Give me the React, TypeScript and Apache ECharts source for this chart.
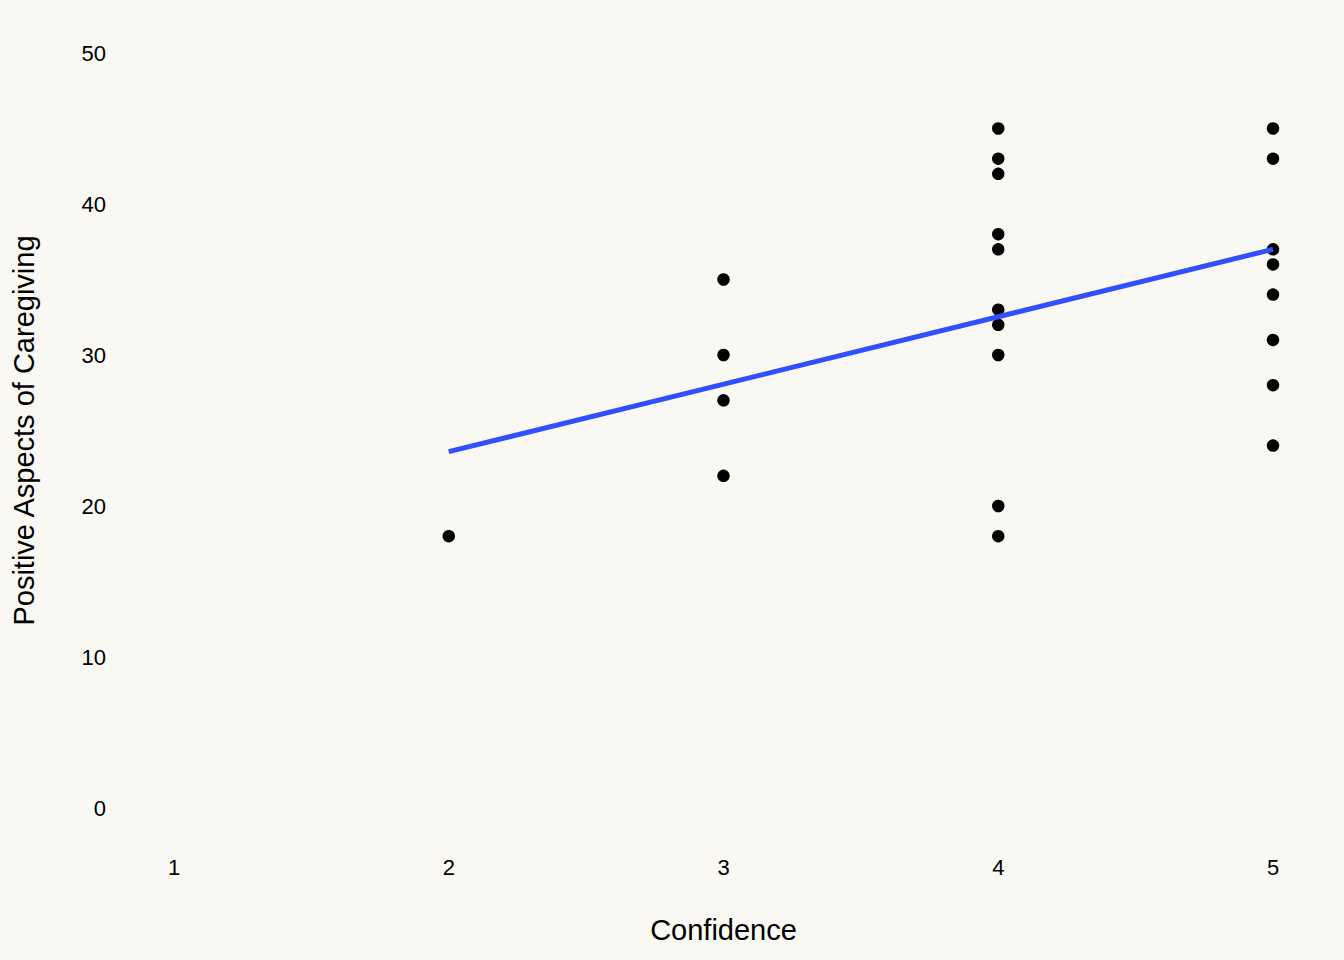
import React, { useEffect, useRef } from "react";
import * as echarts from "echarts";

const confidence = [2, 3, 3, 3, 3, 4, 4, 4, 4, 4, 4, 4, 4, 4, 4, 5, 5, 5, 5, 5, 5, 5, 5];
const positiveAspects = [18, 35, 30, 27, 22, 45, 43, 42, 38, 37, 33, 32, 30, 20, 18, 45, 43, 37, 36, 34, 31, 28, 24];
const fitX = [2, 5];
const fitY = [23.6, 37.0];
const xTicks = [1, 2, 3, 4, 5];
const yTicks = [0, 10, 20, 30, 40, 50];

export default function App() {
  const ref = useRef<HTMLDivElement>(null);
  useEffect(() => {
    if (!ref.current) return;
    const chart = echarts.init(ref.current, undefined, { renderer: "svg" });
    const font = "'Liberation Sans', Arial, sans-serif";
    chart.setOption({
      animation: false,
      backgroundColor: "#F9F8F2",
      grid: { left: 174, right: 71, top: 53, bottom: 152 },
      xAxis: {
        type: "value",
        min: xTicks[0],
        max: xTicks[xTicks.length - 1],
        interval: 1,
        name: "Confidence",
        nameLocation: "middle",
        nameGap: 107,
        nameTextStyle: { fontFamily: font, fontSize: 29, color: "#000" },
        axisLine: { show: false },
        axisTick: { show: false },
        splitLine: { show: false },
        axisLabel: { fontFamily: font, fontSize: 22, color: "#000", margin: 48 },
      },
      yAxis: {
        type: "value",
        min: yTicks[0],
        max: yTicks[yTicks.length - 1],
        interval: 10,
        name: "Positive Aspects of Caregiving",
        nameLocation: "middle",
        nameGap: 136,
        nameTextStyle: { fontFamily: font, fontSize: 29, color: "#000" },
        axisLine: { show: false },
        axisTick: { show: false },
        splitLine: { show: false },
        axisLabel: { fontFamily: font, fontSize: 22, color: "#000", margin: 68 },
      },
      series: [
        {
          type: "scatter",
          data: confidence.map((x, i) => [x, positiveAspects[i]]),
          symbolSize: 12.5,
          itemStyle: { color: "#000", opacity: 1 },
          clip: false,
          z: 2,
        },
        {
          type: "line",
          data: fitX.map((x, i) => [x, fitY[i]]),
          showSymbol: false,
          symbol: "none",
          lineStyle: { color: "#3050FF", width: 5, cap: "butt" },
          z: 3,
        },
      ],
    });
    return () => chart.dispose();
  }, []);
  return (
    <div
      ref={ref}
      style={{ position: "fixed", left: 0, top: 0, width: 1344, height: 960 }}
    />
  );
}
